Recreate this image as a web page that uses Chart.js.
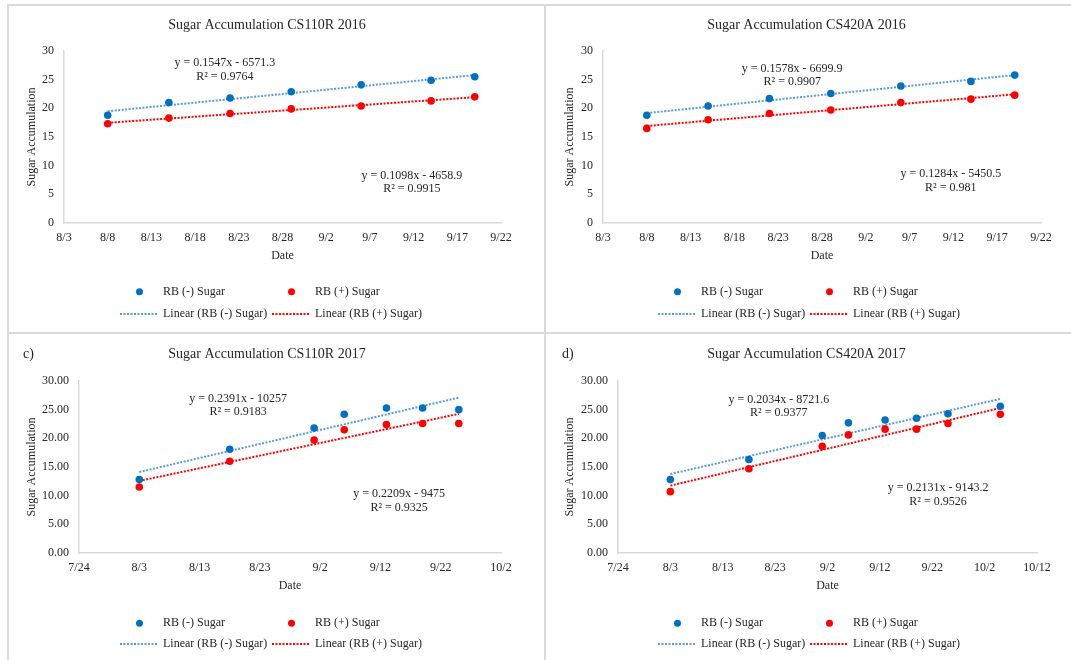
<!DOCTYPE html>
<html>
<head>
<meta charset="utf-8">
<script src="https://cdn.jsdelivr.net/npm/chart.js@4.4.1/dist/chart.umd.min.js"></script>
<style>
  html, body { margin: 0; padding: 0; background: #fff; }
  body { width: 1071px; height: 660px; position: relative; overflow: hidden; }
  .panel { position: absolute; }
  .rule { position: absolute; background: #dadada; }
</style>
</head>
<body>
<div class="rule" style="left:7px;top:4px;width:1064px;height:2px"></div>
<div class="rule" style="left:7px;top:4px;width:2px;height:656px"></div>
<div class="rule" style="left:544px;top:4px;width:2px;height:656px"></div>
<div class="rule" style="left:7px;top:332px;width:1064px;height:2px"></div>

<div class="panel" style="left:8px;top:5px"><canvas id="chartA" width="537" height="328"></canvas></div>
<div class="panel" style="left:545px;top:5px"><canvas id="chartB" width="526" height="328"></canvas></div>
<div class="panel" style="left:8px;top:333px"><canvas id="chartC" width="537" height="327"></canvas></div>
<div class="panel" style="left:545px;top:333px"><canvas id="chartD" width="526" height="327"></canvas></div>

<script>
// tick labels of the date axes
const ticks2016 = ['8/3', '8/8', '8/13', '8/18', '8/23', '8/28', '9/2', '9/7', '9/12', '9/17', '9/22'];
const ticks2017c = ['7/24', '8/3', '8/13', '8/23', '9/2', '9/12', '9/22', '10/2'];
const ticks2017d = ['7/24', '8/3', '8/13', '8/23', '9/2', '9/12', '9/22', '10/2', '10/12'];
const yTicks = [0, 5, 10, 15, 20, 25, 30];

// CS110R 2016
const datesA = ['8/8', '8/15', '8/22', '8/29', '9/6', '9/14', '9/19'];
const minusA = [18.8, 21.0, 21.8, 22.9, 24.1, 24.9, 25.5];
const plusA = [17.3, 18.3, 19.1, 19.9, 20.4, 21.3, 22.0];

// CS420A 2016
const datesB = ['8/8', '8/15', '8/22', '8/29', '9/6', '9/14', '9/19'];
const minusB = [18.8, 20.4, 21.7, 22.6, 23.9, 24.7, 25.8];
const plusB = [16.5, 18.0, 19.1, 19.7, 21.0, 21.6, 22.3];

// CS110R 2017
const datesC = ['8/3', '8/18', '9/1', '9/6', '9/13', '9/19', '9/25'];
const minusC = [12.8, 18.1, 21.8, 24.2, 25.3, 25.3, 25.0];
const plusC = [11.5, 16.0, 19.7, 21.5, 22.4, 22.6, 22.6];

// CS420A 2017
const datesD = ['8/3', '8/18', '9/1', '9/6', '9/13', '9/19', '9/25', '10/5'];
const minusD = [12.8, 16.3, 20.5, 22.7, 23.2, 23.5, 24.3, 25.6];
const plusD = [10.7, 14.7, 18.6, 20.6, 21.6, 21.6, 22.6, 24.2];

const seriesNames = ['RB (-) Sugar', 'RB (+) Sugar', 'Linear (RB (-) Sugar)', 'Linear (RB (+) Sugar)'];

const FONT = "'Liberation Serif', 'Times New Roman', serif";
const TEXT = '#262626';
const BLUE = '#0070C0', RED = '#FF0000', BLUE_LINE = '#5B9BD5';
const DOTS = [2, 1.5];
Chart.defaults.font.family = FONT;
Chart.defaults.color = TEXT;

const panels = [
  { id: 'chartA', title: 'Sugar Accumulation CS110R 2016', tag: '', year: 2016, ticks: ticks2016, dec: 0,
    dates: datesA, minus: minusA, plus: plusA,
    eq: ['y = 0.1547x - 6571.3', 'R² = 0.9764', 'y = 0.1098x - 4658.9', 'R² = 0.9915'],
    eqAt: [[18.4, 27.9], [39.8, 8.25]],
    left: 56, right: 44, top: 46, bottom: 65, yTitlePad: 16.8, titleX: 259, titleY: 20, legendX: 112, legendY: [286.7, 309] },
  { id: 'chartB', title: 'Sugar Accumulation CS420A 2016', tag: '', year: 2016, ticks: ticks2016, dec: 0,
    dates: datesB, minus: minusB, plus: plusB,
    eq: ['y = 0.1578x - 6699.9', 'R² = 0.9907', 'y = 0.1284x - 5450.5', 'R² = 0.981'],
    eqAt: [[21.6, 26.9], [39.7, 8.55]],
    left: 58, right: 30, top: 46, bottom: 65, yTitlePad: 17.8, titleX: 261.5, titleY: 20, legendX: 113, legendY: [286.7, 309] },
  { id: 'chartC', title: 'Sugar Accumulation CS110R 2017', tag: 'c)', tagX: 15, year: 2017, ticks: ticks2017c, dec: 2,
    dates: datesC, minus: minusC, plus: plusC,
    eq: ['y = 0.2391x - 10257', 'R² = 0.9183', 'y = 0.2209x - 9475', 'R² = 0.9325'],
    eqAt: [[26.4, 26.9], [53.1, 10.3]],
    left: 71, right: 44, top: 48, bottom: 62, yTitlePad: 16.8, titleX: 259, titleY: 21, legendX: 112, legendY: [290.3, 311] },
  { id: 'chartD', title: 'Sugar Accumulation CS420A 2017', tag: 'd)', tagX: 17, year: 2017, ticks: ticks2017d, dec: 2,
    dates: datesD, minus: minusD, plus: plusD,
    eq: ['y = 0.2034x - 8721.6', 'R² = 0.9377', 'y = 0.2131x - 9143.2', 'R² = 0.9526'],
    eqAt: [[30.7, 26.8], [61.1, 11.3]],
    left: 73, right: 34, top: 48, bottom: 62, yTitlePad: 17.8, titleX: 261.5, titleY: 21, legendX: 113, legendY: [290.3, 311] }
];

// days since the first tick label
function dayOf(label, year, first) {
  const toUtc = s => { const [m, d] = s.split('/').map(Number); return Date.UTC(year, m - 1, d); };
  return Math.round((toUtc(label) - toUtc(first)) / 86400000);
}

// least squares line, drawn from first to last date (like an Excel trendline)
function linearFit(xs, ys) {
  const n = xs.length;
  const mx = xs.reduce((s, v) => s + v, 0) / n;
  const my = ys.reduce((s, v) => s + v, 0) / n;
  let sxy = 0, sxx = 0;
  xs.forEach((x, i) => { sxy += (x - mx) * (ys[i] - my); sxx += (x - mx) * (x - mx); });
  const b = sxy / sxx, a = my - b * mx;
  return [xs[0], xs[n - 1]].map(x => ({ x: x, y: a + b * x }));
}

function makeDecor(p) {
  return {
    id: 'decor',
    afterDraw(chart) {
      const ctx = chart.ctx;
      const sx = chart.scales.x, sy = chart.scales.y;
      ctx.save();
      ctx.fillStyle = TEXT;
      ctx.textBaseline = 'middle';

      // title
      ctx.font = '14px ' + FONT;
      ctx.textAlign = 'center';
      ctx.fillText(p.title, p.titleX, p.titleY);
      if (p.tag) {
        ctx.textAlign = 'left';
        ctx.fillText(p.tag, p.tagX, p.titleY);
      }

      // trendline equations
      ctx.font = '12px ' + FONT;
      ctx.textAlign = 'center';
      p.eqAt.forEach((pos, k) => {
        const cx = sx.getPixelForValue(pos[0]);
        const cy = sy.getPixelForValue(pos[1]);
        ctx.fillText(p.eq[k * 2], cx, cy);
        ctx.fillText(p.eq[k * 2 + 1], cx, cy + 13.5);
      });

      // legend, 2 x 2
      ctx.textAlign = 'left';
      const cols = [p.legendX, p.legendX + 152];
      const colors = [BLUE, RED];
      const lineColors = [BLUE_LINE, RED];
      for (let c = 0; c < 2; c++) {
        const x0 = cols[c];
        // marker
        ctx.beginPath();
        ctx.fillStyle = colors[c];
        ctx.arc(x0 + 19.5, p.legendY[0], 3.5, 0, Math.PI * 2);
        ctx.fill();
        // dotted line
        ctx.beginPath();
        ctx.strokeStyle = lineColors[c];
        ctx.lineWidth = 2;
        ctx.setLineDash(DOTS);
        ctx.moveTo(x0, p.legendY[1]);
        ctx.lineTo(x0 + 37, p.legendY[1]);
        ctx.stroke();
        ctx.setLineDash([]);
        ctx.fillStyle = TEXT;
        ctx.fillText(seriesNames[c], x0 + 43, p.legendY[0]);
        ctx.fillText(seriesNames[c + 2], x0 + 43, p.legendY[1]);
      }
      ctx.restore();
    }
  };
}

panels.forEach(p => {
  const first = p.ticks[0];
  const xs = p.dates.map(d => dayOf(d, p.year, first));
  const xMax = dayOf(p.ticks[p.ticks.length - 1], p.year, first);
  const step = dayOf(p.ticks[1], p.year, first);
  const pts = ys => xs.map((x, i) => ({ x: x, y: ys[i] }));

  new Chart(document.getElementById(p.id), {
    type: 'scatter',
    data: {
      datasets: [
        { label: seriesNames[0], data: pts(p.minus), backgroundColor: BLUE, borderColor: BLUE, pointRadius: 3.8, borderWidth: 0 },
        { label: seriesNames[1], data: pts(p.plus), backgroundColor: RED, borderColor: RED, pointRadius: 3.8, borderWidth: 0 },
        { label: seriesNames[2], data: linearFit(xs, p.minus), showLine: true, pointRadius: 0, borderColor: BLUE_LINE, borderWidth: 2, borderDash: DOTS },
        { label: seriesNames[3], data: linearFit(xs, p.plus), showLine: true, pointRadius: 0, borderColor: RED, borderWidth: 2, borderDash: DOTS }
      ]
    },
    options: {
      responsive: false,
      animation: false,
      events: [],
      layout: { padding: { left: 0, top: p.top, right: p.right, bottom: p.bottom } },
      plugins: { legend: { display: false }, tooltip: { enabled: false }, title: { display: false } },
      scales: {
        x: {
          type: 'linear', min: 0, max: xMax,
          grid: { display: false, drawTicks: false },
          border: { color: '#d9d9d9', width: 1.5 },
          ticks: {
            stepSize: step, padding: 8, color: TEXT, font: { size: 12 }, maxRotation: 0, autoSkip: false,
            callback: v => p.ticks[Math.round(v / step)]
          },
          title: { display: true, text: 'Date', color: TEXT, font: { size: 12 }, padding: { top: 0, bottom: 4.5 } },
          afterFit: s => { s.height = 45; }
        },
        y: {
          min: yTicks[0], max: yTicks[yTicks.length - 1],
          grid: { display: false, drawTicks: false },
          border: { color: '#d9d9d9', width: 1.5 },
          ticks: { stepSize: yTicks[1] - yTicks[0], padding: 10, color: TEXT, font: { size: 12 }, callback: v => v.toFixed(p.dec) },
          title: { display: true, text: 'Sugar Accumulation', color: TEXT, font: { size: 12 }, padding: { top: p.yTitlePad, bottom: 0 } },
          afterFit: s => { s.width = p.left; }
        }
      }
    },
    plugins: [makeDecor(p)]
  });
});
</script>
</body>
</html>
